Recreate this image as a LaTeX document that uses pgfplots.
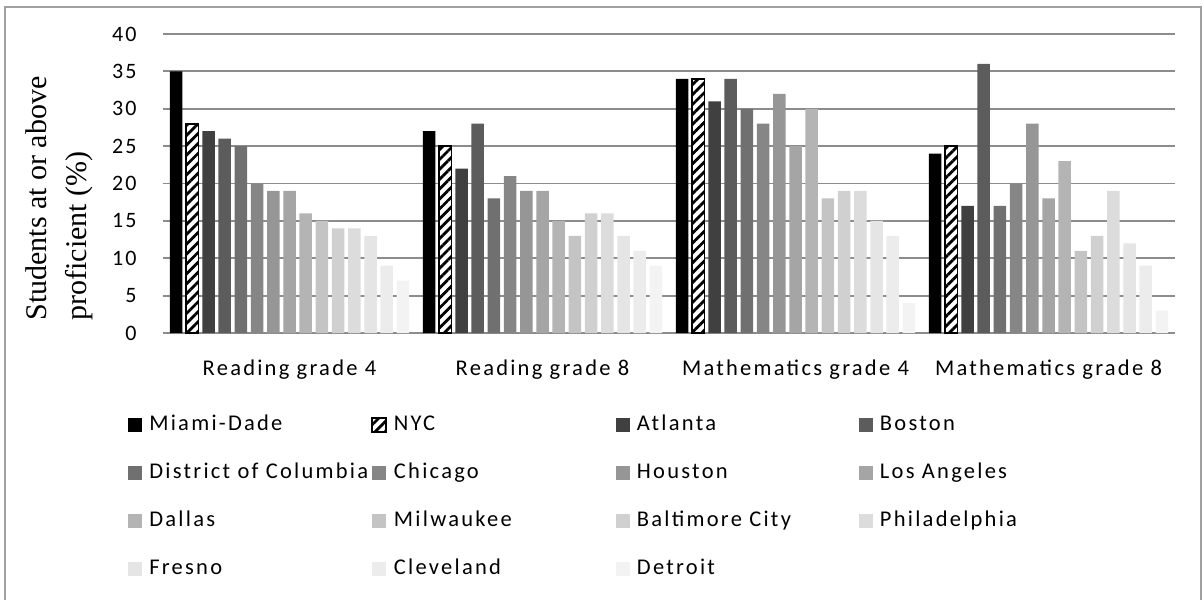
\documentclass[border=0pt]{standalone}
\usepackage{fontspec}
\usepackage{pgfplots}
\pgfplotsset{compat=1.18}
\usetikzlibrary{patterns.meta}
\setmainfont{Carlito}
\newfontfamily\calib{Carlito}[LetterSpace=10]
\newfontfamily\tms{Liberation Serif}
\definecolor{cAtl}{RGB}{64,64,64}
\definecolor{cBos}{RGB}{92,92,92}
\definecolor{cDC}{RGB}{112,112,112}
\definecolor{cChi}{RGB}{134,134,134}
\definecolor{cHou}{RGB}{150,150,150}
\definecolor{cLA}{RGB}{165,165,165}
\definecolor{cDal}{RGB}{180,180,180}
\definecolor{cMil}{RGB}{196,196,196}
\definecolor{cBal}{RGB}{208,208,208}
\definecolor{cPhi}{RGB}{220,220,220}
\definecolor{cFre}{RGB}{229,229,229}
\definecolor{cCle}{RGB}{236,236,236}
\definecolor{cDet}{RGB}{243,243,243}
\definecolor{gridc}{RGB}{140,140,140}
\definecolor{framec}{RGB}{160,160,160}
\newcommand{\lgd}[1]{\makebox[111pt][l]{#1}}
\begin{document}
\begin{tikzpicture}
\useasboundingbox (0,0) rectangle (601.5pt,-299.5pt);
\draw[framec, line width=1pt] (2.5pt,-3.5pt) rectangle (600.5pt,-320pt);
\node[rotate=90, anchor=north west, align=left, inner sep=0pt,
  font=\tms\fontsize{15pt}{20pt}\selectfont] at (12.5pt,-160.5pt)
  {Students at or above\\proficient (\%)};
\begin{axis}[
  at={(81.5pt,-166.5pt)}, anchor=south west,
  scale only axis, width=506pt, height=149.5pt,
  ybar=1.85pt, bar width=6.25pt,
  xmin=-0.5, xmax=3.5, ymin=0, ymax=40,
  xtick={0,1,2,3},
  xticklabels={Reading grade 4, Reading grade 8, Mathematics grade 4, Mathematics grade 8},
  ytick={0,5,...,40},
  ymajorgrids, grid style={draw=gridc, line width=0.9pt},
  axis line style={draw=none}, major tick length=0pt,
  /pgf/number format/assume math mode=true,
  yticklabel style={anchor=east, inner sep=0pt, xshift=-13pt, font=\calib\fontsize{11pt}{13pt}\selectfont},
  xticklabel style={anchor=base, inner sep=0pt, yshift=-21pt, font=\calib\fontsize{11.25pt}{13pt}\selectfont},
  legend columns=4,
  legend cell align=left,
  legend image code/.code={\path[#1] (0pt,-3.5pt) rectangle (7pt,3.5pt);},
  legend style={at={(-0.0346,-0.27)}, anchor=north west,
    draw=none, fill=none, inner sep=0pt,
    font=\calib\fontsize{11.25pt}{13pt}\selectfont,
    /tikz/every odd column/.append style={column sep=3.5pt},
    row sep=13pt,
    nodes={inner sep=0pt, text height=8pt, text depth=3pt}},
]
\addplot[fill=black, draw=none] coordinates {(0,35) (1,27) (2,34) (3,24)};
\addplot[fill=white, draw=black, line width=0.8pt, postaction={pattern={Lines[angle=45,distance=3.5pt,line width=1.4pt]}, pattern color=black}] coordinates {(0,28) (1,25) (2,34) (3,25)};
\addplot[fill=cAtl, draw=none] coordinates {(0,27) (1,22) (2,31) (3,17)};
\addplot[fill=cBos, draw=none] coordinates {(0,26) (1,28) (2,34) (3,36)};
\addplot[fill=cDC, draw=none] coordinates {(0,25) (1,18) (2,30) (3,17)};
\addplot[fill=cChi, draw=none] coordinates {(0,20) (1,21) (2,28) (3,20)};
\addplot[fill=cHou, draw=none] coordinates {(0,19) (1,19) (2,32) (3,28)};
\addplot[fill=cLA, draw=none] coordinates {(0,19) (1,19) (2,25) (3,18)};
\addplot[fill=cDal, draw=none] coordinates {(0,16) (1,15) (2,30) (3,23)};
\addplot[fill=cMil, draw=none] coordinates {(0,15) (1,13) (2,18) (3,11)};
\addplot[fill=cBal, draw=none] coordinates {(0,14) (1,16) (2,19) (3,13)};
\addplot[fill=cPhi, draw=none] coordinates {(0,14) (1,16) (2,19) (3,19)};
\addplot[fill=cFre, draw=none] coordinates {(0,13) (1,13) (2,15) (3,12)};
\addplot[fill=cCle, draw=none] coordinates {(0,9) (1,11) (2,13) (3,9)};
\addplot[fill=cDet, draw=none] coordinates {(0,7) (1,9) (2,4) (3,3)};
\legend{\lgd{Miami-Dade},\lgd{NYC},\lgd{Atlanta},\lgd{Boston},\lgd{District of Columbia},\lgd{Chicago},\lgd{Houston},\lgd{Los Angeles},\lgd{Dallas},\lgd{Milwaukee},\lgd{Baltimore City},\lgd{Philadelphia},\lgd{Fresno},\lgd{Cleveland},\lgd{Detroit}}
\end{axis}
\end{tikzpicture}
\end{document}
